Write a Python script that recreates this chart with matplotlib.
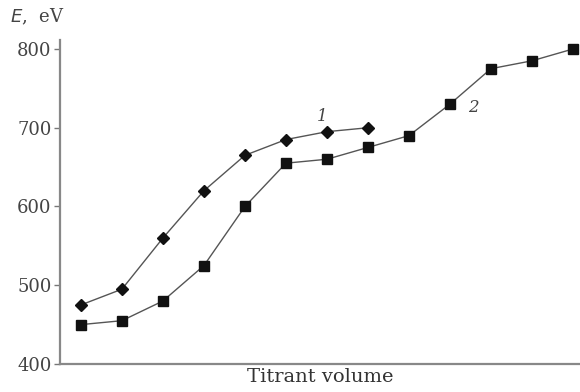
import matplotlib.pyplot as plt

# titration curves
x1 = [1, 2, 3, 4, 5, 6, 7, 8]
e1 = [475, 495, 560, 620, 665, 685, 695, 700]
x2 = [1, 2, 3, 4, 5, 6, 7, 8, 9, 10, 11, 12, 13]
e2 = [450, 455, 480, 525, 600, 655, 660, 675, 690, 730, 775, 785, 800]
yticks = [400, 500, 600, 700, 800]

plt.rcParams['font.family'] = ['DejaVu Serif']

fig = plt.figure(figsize=(5.8, 3.92), dpi=100)
ax = fig.add_axes([60/580, 28/392, 520/580, 324/392])

ax.plot(x1, e1, color='#555555', lw=1.0, marker='D', ms=6,
        mfc='#111111', mec='#111111', clip_on=False)
ax.plot(x2, e2, color='#555555', lw=1.0, marker='s', ms=6.5,
        mfc='#111111', mec='#111111', clip_on=False)

ax.text(6.75, 708, '1', fontsize=12, style='italic', color='#444444')
ax.text(10.45, 720, '2', fontsize=12, style='italic', color='#444444')

ax.set_xlim(0.49, 13.17)
ax.set_ylim(400, 811.4)
ax.set_yticks(yticks)
ax.set_xticks([])
ax.tick_params(axis='y', length=4, width=1, color='#777777', labelsize=13,
               labelcolor='#444444', pad=2)
for s in ['top', 'right']:
    ax.spines[s].set_visible(False)
for s in ['left', 'bottom']:
    ax.spines[s].set_color('#888888')
    ax.spines[s].set_linewidth(1.6)

ax.set_xlabel('Titrant volume', fontsize=14, color='#333333', labelpad=3)
fig.text(10/580, 1 - 17/392, '$E$,  eV', fontsize=13, color='#444444',
         va='center', ha='left')

fig.savefig('out.png', dpi=100)
